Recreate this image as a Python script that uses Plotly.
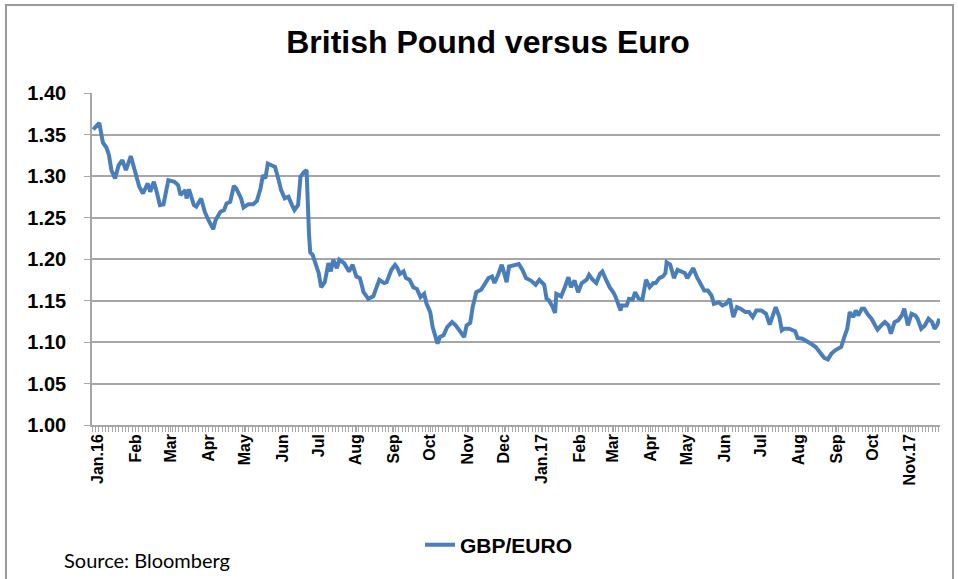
import pandas as pd
import plotly.graph_objects as go

# GBP/EUR rate; x is days after 1 Jan 2016
start_date = "2016-01-01"
day_offsets = [
    -4, 1, 4, 7, 9, 11, 14, 17, 20, 23,
    27, 30, 34, 37, 41, 43, 46, 48, 51, 54,
    58, 63, 66, 68, 72, 73, 75, 79, 81, 85,
    88, 91, 95, 97, 101, 104, 106, 109, 112, 114,
    118, 120, 124, 128, 131, 134, 136, 138, 140, 143,
    146, 149, 151, 154, 157, 160, 162, 165, 167, 170,
    172, 174, 175, 177, 179, 182, 184, 187, 190, 192,
    194, 197, 199, 203, 207, 210, 213, 216, 219, 223,
    227, 230, 232, 236, 238, 242, 245, 247, 249, 252,
    254, 257, 260, 263, 266, 269, 271, 274, 276, 278,
    280, 282, 285, 288, 292, 295, 298, 302, 304, 307,
    309, 312, 316, 319, 322, 325, 327, 330, 333, 335,
    337, 339, 344, 347, 350, 353, 357, 361, 364, 368,
    370, 372, 375, 377, 378, 382, 385, 388, 390, 393,
    396, 399, 403, 405, 408, 411, 414, 416, 419, 422,
    425, 427, 431, 432, 436, 438, 441, 443, 446, 449,
    452, 455, 458, 460, 463, 466, 468, 469, 472, 475,
    478, 481, 484, 486, 489, 491, 494, 497, 500, 503,
    506, 508, 512, 515, 518, 521, 524, 527, 530, 534,
    537, 540, 543, 547, 551, 554, 557, 559, 562, 564,
    566, 570, 575, 577, 581, 585, 588, 592, 596, 599,
    602, 605, 608, 610, 613, 616, 618, 620, 623, 625,
    627, 630, 632, 635, 638, 641, 643, 646, 649, 652,
    654, 657, 660, 663, 665, 668, 671, 674, 676, 679,
    682, 685, 688, 690, 692, 694,
]
gbp_eur = [
    1.356, 1.364, 1.340, 1.334, 1.325, 1.307, 1.297, 1.313, 1.319, 1.307,
    1.324, 1.309, 1.287, 1.279, 1.291, 1.281, 1.293, 1.283, 1.265, 1.266,
    1.295, 1.293, 1.289, 1.277, 1.283, 1.273, 1.284, 1.265, 1.263, 1.273,
    1.257, 1.247, 1.236, 1.247, 1.257, 1.259, 1.267, 1.269, 1.288, 1.285,
    1.273, 1.262, 1.266, 1.266, 1.270, 1.285, 1.301, 1.297, 1.315, 1.313,
    1.311, 1.295, 1.283, 1.273, 1.275, 1.265, 1.259, 1.265, 1.299, 1.305,
    1.307, 1.230, 1.208, 1.205, 1.195, 1.183, 1.166, 1.172, 1.195, 1.185,
    1.199, 1.189, 1.199, 1.195, 1.185, 1.193, 1.179, 1.177, 1.160, 1.152,
    1.155, 1.166, 1.175, 1.171, 1.172, 1.187, 1.193, 1.189, 1.182, 1.185,
    1.177, 1.175, 1.166, 1.164, 1.154, 1.158, 1.146, 1.136, 1.118, 1.108,
    1.098, 1.106, 1.108, 1.118, 1.124, 1.120, 1.114, 1.106, 1.120, 1.123,
    1.142, 1.160, 1.163, 1.171, 1.177, 1.179, 1.171, 1.181, 1.193, 1.183,
    1.172, 1.191, 1.193, 1.194, 1.187, 1.177, 1.174, 1.169, 1.175, 1.169,
    1.152, 1.150, 1.142, 1.135, 1.158, 1.155, 1.166, 1.178, 1.166, 1.174,
    1.160, 1.171, 1.175, 1.181, 1.175, 1.171, 1.182, 1.185, 1.175, 1.166,
    1.160, 1.154, 1.138, 1.144, 1.144, 1.152, 1.151, 1.160, 1.152, 1.151,
    1.175, 1.166, 1.171, 1.171, 1.177, 1.179, 1.183, 1.196, 1.193, 1.177,
    1.187, 1.185, 1.183, 1.177, 1.183, 1.189, 1.178, 1.169, 1.162, 1.162,
    1.156, 1.146, 1.148, 1.144, 1.146, 1.152, 1.130, 1.142, 1.140, 1.136,
    1.136, 1.130, 1.138, 1.138, 1.134, 1.121, 1.134, 1.142, 1.130, 1.114,
    1.116, 1.116, 1.113, 1.105, 1.104, 1.101, 1.098, 1.094, 1.086, 1.081,
    1.079, 1.086, 1.090, 1.092, 1.094, 1.108, 1.116, 1.136, 1.130, 1.138,
    1.132, 1.140, 1.140, 1.133, 1.128, 1.120, 1.115, 1.120, 1.124, 1.120,
    1.110, 1.124, 1.126, 1.132, 1.140, 1.120, 1.134, 1.132, 1.128, 1.116,
    1.120, 1.128, 1.124, 1.116, 1.120, 1.128,
]
month_labels = [
    "Jan.16", "Feb", "Mar", "Apr", "May", "Jun", "Jul", "Aug", "Sep", "Oct",
    "Nov", "Dec", "Jan.17", "Feb", "Mar", "Apr", "May", "Jun", "Jul", "Aug",
    "Sep", "Oct", "Nov.17",
]

assert len(day_offsets) == len(gbp_eur)

t0 = pd.Timestamp(start_date)
dates = [t0 + pd.Timedelta(days=d) for d in day_offsets]
month_starts = pd.date_range(start_date, periods=len(month_labels), freq="MS")

FONT = "Liberation Sans, Arial, sans-serif"
GRID = "#a6a6a6"
DAY_MS = 86400000

# plot area in pixels: x 92..940, y 93..425
L, R, T, B = 92, 18, 93, 154
W, H = 958 - L - R, 579 - T - B


def px(x):
    return (x - L) / W


def py(y):
    return (579 - B - y) / H


fig = go.Figure()
fig.add_trace(
    go.Scatter(
        x=dates,
        y=gbp_eur,
        mode="lines",
        name="GBP/EURO",
        line=dict(color="#4a7ebb", width=4),
        hovertemplate="%{x|%d %b %Y}: %{y:.3f}<extra></extra>",
    )
)

fig.update_layout(
    width=958,
    height=579,
    paper_bgcolor="white",
    plot_bgcolor="white",
    margin=dict(l=L, r=R, t=T, b=B),
    font=dict(family=FONT, color="black"),
    title=dict(
        text="<b>British Pound versus Euro</b>",
        x=488 / 958,
        xanchor="center",
        y=1 - 42 / 579,
        yanchor="middle",
        font=dict(size=32, family=FONT, color="black"),
    ),
    showlegend=True,
    legend=dict(
        orientation="h",
        x=px(420),
        xanchor="left",
        y=py(545),
        yanchor="middle",
        font=dict(size=21, family=FONT, color="black", weight="bold"),
        bgcolor="rgba(0,0,0,0)",
    ),
    shapes=[
        dict(
            type="rect",
            xref="paper",
            yref="paper",
            x0=px(6),
            x1=px(953),
            y0=py(590),
            y1=py(5),
            line=dict(color="#9a9a9a", width=2),
        )
    ],
    annotations=[
        dict(
            text="Source: Bloomberg",
            xref="paper",
            yref="paper",
            x=px(62),
            y=py(560),
            xanchor="left",
            yanchor="middle",
            showarrow=False,
            font=dict(size=20, family="Lato, sans-serif", color="black"),
        )
    ],
)

fig.update_xaxes(
    range=[t0 - pd.Timedelta(days=5), t0 + pd.Timedelta(days=694.5)],
    tickmode="array",
    tickvals=month_starts,
    ticktext=month_labels,
    tickangle=-90,
    tickfont=dict(size=16, family=FONT, color="black", weight="bold"),
    ticklabelstandoff=-4,
    showgrid=False,
    showline=True,
    linecolor=GRID,
    linewidth=1.5,
    ticks="outside",
    ticklen=5,
    tickcolor=GRID,
    minor=dict(
        ticks="outside",
        ticklen=5,
        tickcolor=GRID,
        dtick=2.75 * DAY_MS,
        tick0=t0 - pd.Timedelta(days=5),
        showgrid=False,
    ),
)
fig.update_yaxes(
    range=[1.0, 1.4],
    dtick=0.05,
    tickformat=".2f",
    tickfont=dict(size=20, family=FONT, color="black", weight="bold"),
    ticklabelstandoff=14,
    showgrid=True,
    gridcolor=GRID,
    gridwidth=1.5,
    zeroline=False,
    showline=True,
    linecolor=GRID,
    linewidth=1.5,
    ticks="outside",
    ticklen=6,
    tickcolor=GRID,
)

# drop the page's default body margin so the figure sits at the window origin
fig.write_html(
    "out.html",
    config={"displayModeBar": False},
    post_script="document.body.style.margin='0';",
)
